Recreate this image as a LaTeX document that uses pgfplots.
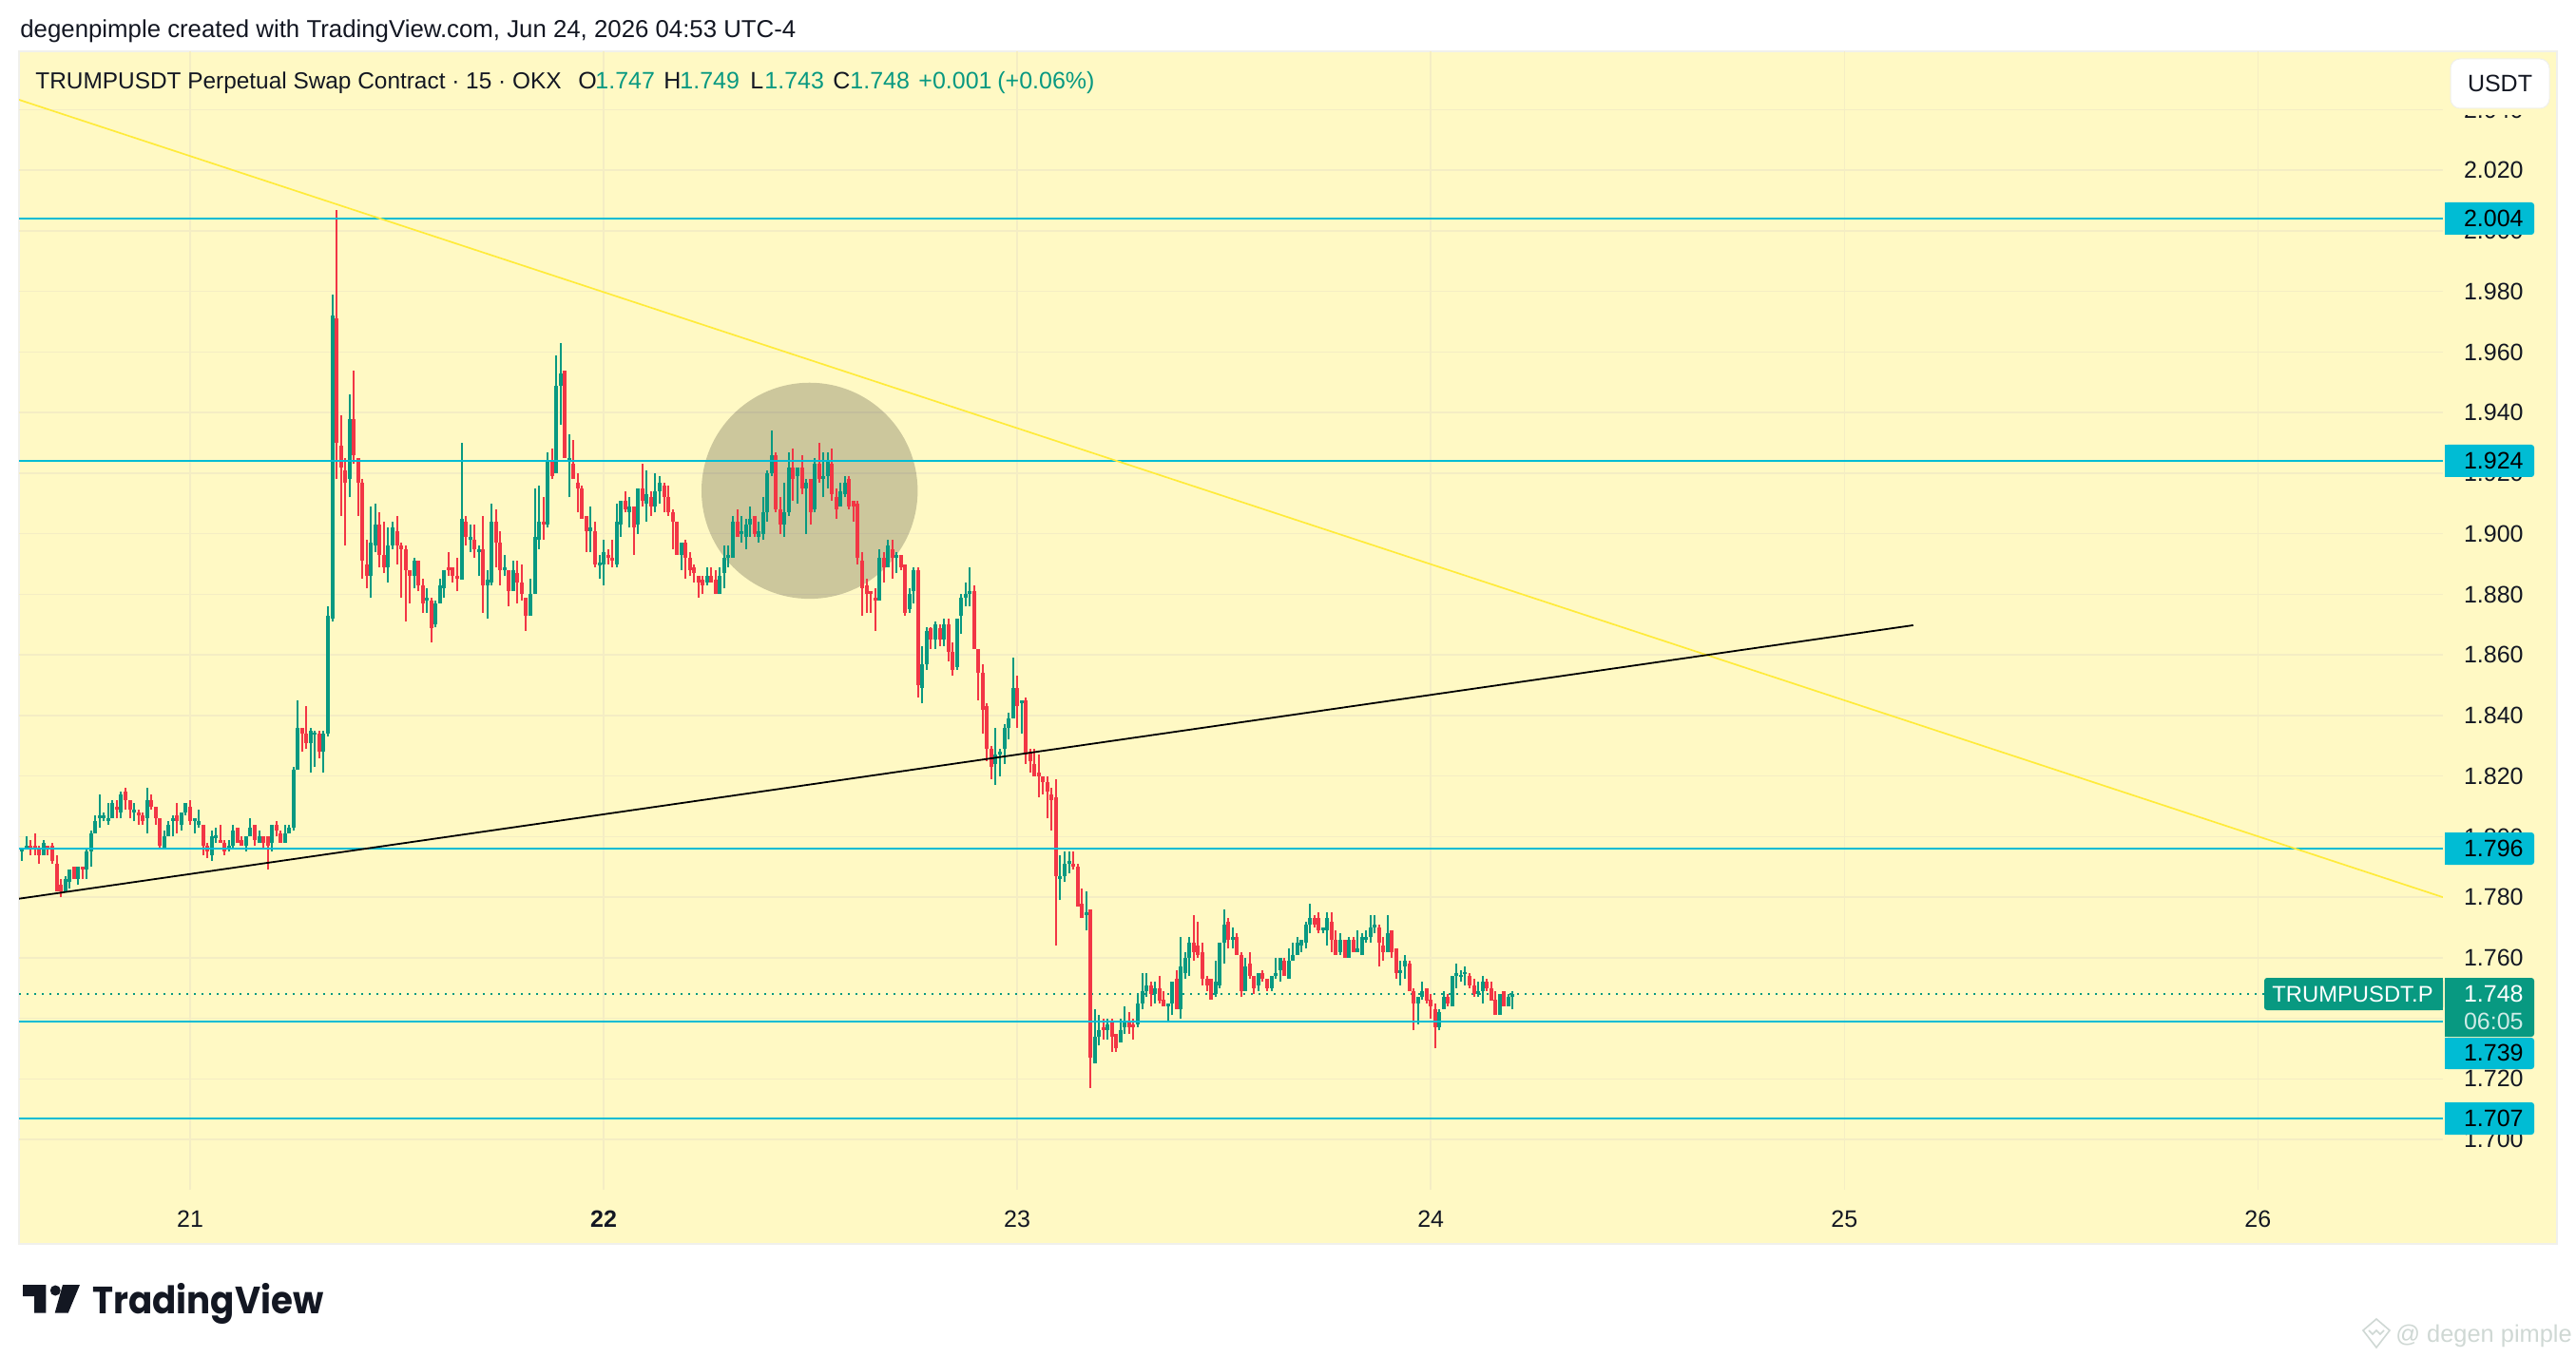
\documentclass[border=0pt]{standalone}
\usepackage{fontspec}
\usepackage{pgfplots}
\usepackage{pgfplotstable}
\pgfplotsset{compat=1.18}
\setmainfont{Liberation Sans}
\newfontfamily\pop{Poppins}
\definecolor{bg}{HTML}{FFF9C4}
\definecolor{gridc}{HTML}{F4EDC4}
\definecolor{upc}{HTML}{089981}
\definecolor{dnc}{HTML}{F23645}
\definecolor{cyanl}{HTML}{00BCD4}
\definecolor{yell}{HTML}{FFEB3B}
\definecolor{txt}{HTML}{131722}
\definecolor{bord}{HTML}{F0F0EC}
\definecolor{wm}{HTML}{CFD8D4}
\pgfplotstableread{
i h l o c
-39 1.796 1.792 1.795 1.796
-38 1.800 1.796 1.796 1.797
-34 1.799 1.794 1.794 1.798
-29 1.787 1.782 1.782 1.786
-28 1.789 1.783 1.785 1.789
-26 1.790 1.784 1.786 1.790
-24 1.796 1.786 1.789 1.795
-23 1.802 1.790 1.795 1.801
-22 1.807 1.801 1.801 1.805
-21 1.814 1.803 1.806 1.807
-20 1.808 1.805 1.806 1.807
-19 1.811 1.804 1.805 1.806
-18 1.812 1.806 1.806 1.811
-16 1.815 1.806 1.808 1.814
-13 1.811 1.805 1.808 1.809
-10 1.816 1.801 1.806 1.812
-6 1.802 1.796 1.796 1.800
-5 1.805 1.800 1.800 1.804
-4 1.807 1.800 1.805 1.806
-2 1.808 1.802 1.804 1.808
-1 1.811 1.807 1.808 1.811
1 1.806 1.801 1.805 1.806
2 1.809 1.803 1.804 1.805
5 1.802 1.792 1.794 1.800
6 1.803 1.798 1.800 1.800
9 1.799 1.795 1.796 1.797
10 1.804 1.796 1.797 1.802
13 1.800 1.795 1.797 1.800
14 1.806 1.800 1.800 1.803
16 1.802 1.798 1.798 1.800
19 1.804 1.795 1.798 1.804
22 1.804 1.798 1.798 1.801
23 1.804 1.801 1.801 1.803
24 1.823 1.802 1.803 1.822
25 1.845 1.822 1.822 1.836
28 1.836 1.821 1.831 1.835
29 1.835 1.823 1.834 1.834
31 1.835 1.821 1.828 1.834
32 1.876 1.833 1.834 1.873
33 1.979 1.871 1.872 1.972
37 1.946 1.912 1.918 1.938
42 1.909 1.879 1.886 1.897
43 1.910 1.894 1.896 1.903
46 1.902 1.884 1.889 1.896
47 1.904 1.895 1.896 1.902
52 1.892 1.882 1.886 1.891
55 1.882 1.874 1.878 1.879
57 1.878 1.869 1.870 1.877
58 1.885 1.877 1.877 1.883
59 1.888 1.879 1.882 1.888
63 1.930 1.885 1.885 1.905
65 1.903 1.894 1.898 1.899
67 1.896 1.886 1.894 1.895
69 1.888 1.872 1.883 1.885
70 1.910 1.883 1.884 1.904
73 1.893 1.886 1.888 1.889
75 1.891 1.881 1.881 1.888
79 1.885 1.873 1.873 1.880
80 1.915 1.880 1.880 1.899
81 1.916 1.895 1.898 1.904
83 1.927 1.902 1.903 1.924
85 1.959 1.920 1.920 1.949
86 1.963 1.936 1.949 1.953
88 1.933 1.912 1.924 1.925
93 1.909 1.894 1.901 1.902
95 1.893 1.885 1.890 1.890
96 1.898 1.883 1.890 1.894
99 1.910 1.889 1.890 1.904
100 1.911 1.899 1.903 1.911
102 1.912 1.902 1.907 1.909
104 1.915 1.900 1.903 1.915
106 1.921 1.904 1.910 1.913
108 1.920 1.907 1.909 1.914
109 1.919 1.910 1.914 1.917
114 1.897 1.888 1.893 1.897
120 1.889 1.883 1.884 1.886
123 1.889 1.880 1.880 1.886
124 1.896 1.882 1.887 1.892
125 1.896 1.889 1.892 1.893
126 1.906 1.892 1.892 1.904
128 1.906 1.897 1.900 1.901
129 1.905 1.895 1.899 1.903
130 1.909 1.899 1.903 1.905
132 1.904 1.897 1.899 1.901
133 1.912 1.898 1.900 1.907
134 1.921 1.904 1.907 1.920
135 1.934 1.919 1.920 1.926
138 1.917 1.899 1.903 1.907
139 1.927 1.906 1.907 1.922
141 1.922 1.910 1.919 1.922
143 1.918 1.900 1.915 1.917
145 1.925 1.907 1.908 1.923
147 1.927 1.912 1.918 1.919
148 1.927 1.915 1.919 1.924
151 1.917 1.909 1.909 1.914
152 1.919 1.912 1.913 1.917
160 1.895 1.878 1.878 1.892
162 1.898 1.889 1.889 1.896
164 1.894 1.887 1.892 1.893
167 1.882 1.874 1.875 1.880
168 1.889 1.877 1.881 1.888
170 1.863 1.844 1.849 1.857
171 1.869 1.855 1.857 1.868
173 1.871 1.862 1.865 1.870
175 1.872 1.863 1.865 1.870
178 1.872 1.855 1.856 1.872
179 1.880 1.867 1.873 1.879
180 1.884 1.876 1.879 1.880
181 1.889 1.876 1.880 1.881
187 1.836 1.817 1.824 1.827
188 1.829 1.820 1.827 1.828
189 1.837 1.824 1.829 1.836
190 1.841 1.832 1.836 1.839
191 1.859 1.839 1.839 1.849
193 1.845 1.834 1.844 1.845
202 1.794 1.779 1.786 1.787
203 1.795 1.785 1.787 1.791
204 1.795 1.788 1.791 1.792
208 1.782 1.769 1.774 1.775
210 1.743 1.725 1.725 1.734
211 1.741 1.731 1.734 1.736
213 1.740 1.733 1.736 1.738
216 1.740 1.732 1.732 1.736
217 1.744 1.735 1.737 1.739
220 1.748 1.737 1.738 1.745
221 1.755 1.743 1.745 1.749
222 1.755 1.747 1.749 1.751
224 1.752 1.745 1.748 1.750
227 1.745 1.739 1.744 1.745
228 1.752 1.741 1.745 1.752
230 1.767 1.740 1.743 1.757
231 1.762 1.753 1.755 1.760
232 1.767 1.754 1.760 1.765
238 1.759 1.747 1.748 1.752
239 1.765 1.750 1.751 1.765
240 1.776 1.758 1.765 1.771
242 1.770 1.763 1.766 1.767
245 1.760 1.749 1.749 1.757
248 1.755 1.749 1.751 1.755
251 1.754 1.749 1.750 1.754
252 1.760 1.753 1.754 1.755
253 1.760 1.752 1.756 1.760
255 1.763 1.753 1.753 1.759
256 1.765 1.759 1.759 1.761
257 1.767 1.761 1.761 1.765
258 1.766 1.762 1.764 1.766
259 1.772 1.763 1.765 1.771
260 1.778 1.768 1.771 1.773
263 1.770 1.768 1.769 1.770
264 1.775 1.764 1.769 1.773
267 1.768 1.761 1.762 1.766
269 1.767 1.760 1.760 1.766
271 1.769 1.762 1.762 1.763
272 1.768 1.761 1.761 1.767
273 1.769 1.765 1.766 1.767
274 1.774 1.765 1.767 1.770
275 1.774 1.768 1.770 1.771
278 1.774 1.762 1.762 1.768
281 1.759 1.751 1.755 1.756
282 1.761 1.753 1.757 1.759
285 1.747 1.738 1.745 1.747
286 1.752 1.746 1.747 1.749
290 1.743 1.736 1.737 1.742
291 1.749 1.743 1.743 1.747
293 1.754 1.744 1.744 1.754
294 1.758 1.750 1.754 1.755
295 1.756 1.752 1.754 1.754
296 1.757 1.751 1.755 1.755
299 1.752 1.747 1.748 1.749
300 1.754 1.745 1.749 1.752
304 1.748 1.741 1.741 1.748
306 1.748 1.744 1.744 1.747
307 1.749 1.743 1.747 1.748
}\upbars
\pgfplotstableread{
i h l o c
-37 1.799 1.794 1.797 1.796
-36 1.801 1.794 1.797 1.796
-35 1.797 1.791 1.796 1.794
-33 1.797 1.794 1.797 1.796
-32 1.798 1.791 1.797 1.792
-31 1.794 1.782 1.791 1.782
-30 1.786 1.780 1.784 1.782
-27 1.790 1.786 1.790 1.786
-25 1.790 1.786 1.790 1.789
-17 1.812 1.806 1.810 1.809
-15 1.816 1.809 1.815 1.812
-14 1.812 1.806 1.812 1.809
-12 1.809 1.804 1.808 1.807
-11 1.808 1.804 1.807 1.805
-9 1.814 1.809 1.812 1.810
-8 1.810 1.804 1.810 1.806
-7 1.806 1.796 1.806 1.797
-3 1.811 1.801 1.807 1.805
0 1.812 1.804 1.810 1.805
3 1.804 1.794 1.804 1.797
4 1.798 1.793 1.797 1.795
7 1.804 1.798 1.799 1.798
8 1.799 1.794 1.798 1.795
11 1.803 1.798 1.803 1.798
12 1.800 1.797 1.799 1.797
15 1.804 1.797 1.804 1.799
17 1.800 1.796 1.800 1.798
18 1.800 1.789 1.800 1.797
20 1.805 1.800 1.804 1.802
21 1.802 1.798 1.801 1.798
26 1.836 1.828 1.836 1.834
27 1.843 1.829 1.834 1.831
30 1.835 1.826 1.834 1.828
34 2.007 1.918 1.971 1.930
35 1.939 1.906 1.929 1.922
36 1.925 1.896 1.921 1.917
38 1.954 1.923 1.938 1.926
39 1.925 1.906 1.925 1.917
40 1.918 1.885 1.917 1.891
41 1.898 1.882 1.890 1.886
44 1.907 1.889 1.903 1.893
45 1.904 1.887 1.893 1.889
48 1.906 1.890 1.901 1.896
49 1.897 1.879 1.896 1.895
50 1.896 1.871 1.895 1.888
51 1.888 1.877 1.888 1.886
53 1.891 1.881 1.891 1.883
54 1.885 1.874 1.883 1.877
56 1.879 1.864 1.878 1.869
60 1.894 1.886 1.889 1.888
61 1.889 1.884 1.889 1.886
62 1.892 1.881 1.886 1.885
64 1.906 1.896 1.904 1.899
66 1.903 1.892 1.898 1.895
68 1.906 1.874 1.895 1.883
71 1.908 1.889 1.904 1.897
72 1.901 1.883 1.897 1.888
74 1.888 1.876 1.888 1.881
76 1.891 1.877 1.887 1.884
77 1.890 1.878 1.884 1.880
78 1.879 1.868 1.879 1.873
82 1.912 1.898 1.904 1.903
84 1.928 1.918 1.924 1.919
87 1.954 1.925 1.954 1.925
89 1.931 1.918 1.923 1.918
90 1.920 1.907 1.917 1.915
91 1.916 1.905 1.915 1.905
92 1.906 1.894 1.906 1.901
94 1.904 1.889 1.901 1.890
97 1.895 1.890 1.893 1.892
98 1.898 1.889 1.892 1.891
101 1.914 1.907 1.911 1.908
103 1.909 1.893 1.909 1.902
105 1.923 1.909 1.915 1.911
107 1.914 1.906 1.912 1.909
110 1.917 1.907 1.916 1.912
111 1.916 1.906 1.912 1.907
112 1.908 1.895 1.907 1.904
113 1.904 1.893 1.904 1.893
115 1.898 1.885 1.897 1.892
116 1.894 1.886 1.892 1.888
117 1.890 1.884 1.889 1.887
118 1.886 1.879 1.886 1.884
119 1.886 1.880 1.885 1.883
121 1.889 1.884 1.886 1.884
122 1.888 1.880 1.885 1.880
127 1.908 1.899 1.904 1.899
131 1.906 1.899 1.906 1.900
136 1.927 1.907 1.926 1.908
137 1.912 1.900 1.908 1.903
140 1.928 1.911 1.922 1.918
142 1.926 1.913 1.922 1.915
144 1.918 1.903 1.918 1.907
146 1.930 1.917 1.923 1.918
149 1.928 1.911 1.923 1.913
150 1.915 1.905 1.912 1.908
153 1.919 1.908 1.918 1.909
154 1.911 1.904 1.911 1.909
155 1.911 1.890 1.910 1.892
156 1.894 1.873 1.891 1.882
157 1.885 1.874 1.883 1.880
158 1.881 1.874 1.881 1.880
159 1.882 1.868 1.879 1.878
161 1.894 1.884 1.892 1.889
163 1.898 1.885 1.895 1.892
165 1.893 1.888 1.893 1.889
166 1.890 1.873 1.890 1.874
169 1.889 1.846 1.888 1.850
172 1.869 1.862 1.869 1.865
174 1.870 1.863 1.869 1.865
176 1.872 1.858 1.870 1.861
177 1.864 1.853 1.861 1.855
182 1.883 1.862 1.881 1.862
183 1.862 1.845 1.862 1.854
184 1.857 1.834 1.854 1.842
185 1.844 1.825 1.843 1.829
186 1.830 1.819 1.829 1.823
192 1.853 1.836 1.849 1.843
194 1.846 1.824 1.845 1.827
195 1.829 1.821 1.828 1.825
196 1.829 1.820 1.824 1.820
197 1.827 1.813 1.821 1.820
198 1.820 1.814 1.820 1.818
199 1.820 1.806 1.818 1.815
200 1.816 1.802 1.814 1.812
201 1.819 1.764 1.813 1.787
205 1.795 1.789 1.791 1.790
206 1.791 1.777 1.790 1.777
207 1.783 1.773 1.778 1.773
209 1.776 1.717 1.776 1.727
212 1.740 1.733 1.737 1.736
214 1.740 1.729 1.739 1.734
215 1.735 1.729 1.735 1.730
218 1.742 1.735 1.739 1.737
219 1.740 1.733 1.738 1.737
223 1.752 1.744 1.751 1.748
225 1.754 1.745 1.750 1.746
226 1.749 1.744 1.746 1.744
229 1.756 1.743 1.753 1.743
233 1.774 1.759 1.765 1.762
234 1.772 1.760 1.764 1.761
235 1.765 1.751 1.762 1.753
236 1.754 1.749 1.753 1.751
237 1.753 1.746 1.753 1.746
241 1.773 1.763 1.772 1.766
243 1.768 1.761 1.767 1.761
244 1.762 1.747 1.761 1.749
246 1.762 1.753 1.758 1.754
247 1.754 1.748 1.754 1.750
249 1.756 1.752 1.755 1.753
250 1.753 1.749 1.753 1.750
254 1.760 1.754 1.759 1.754
261 1.774 1.770 1.773 1.771
262 1.775 1.768 1.773 1.769
265 1.775 1.762 1.772 1.766
266 1.769 1.761 1.766 1.761
268 1.766 1.760 1.766 1.760
270 1.767 1.762 1.766 1.762
276 1.771 1.757 1.770 1.765
277 1.767 1.759 1.764 1.762
279 1.769 1.760 1.769 1.762
280 1.763 1.753 1.763 1.755
283 1.759 1.749 1.758 1.749
284 1.750 1.736 1.749 1.745
287 1.750 1.745 1.750 1.746
288 1.748 1.740 1.746 1.744
289 1.745 1.730 1.743 1.737
292 1.748 1.744 1.747 1.745
297 1.755 1.750 1.754 1.751
298 1.753 1.747 1.751 1.748
301 1.753 1.749 1.752 1.750
302 1.752 1.746 1.750 1.746
303 1.749 1.741 1.746 1.741
305 1.749 1.744 1.749 1.744
}\dnbars
\newcommand{\tvfs}{\fontsize{12.5}{15}\selectfont}
\newcommand{\candles}[2]{%
  \addplot[draw=none,forget plot,error bars/.cd,y dir=plus,y explicit,error mark=none,
    error bar style={draw=#2,line width=1pt}]
    table[x=i,y=l,y error plus expr={\thisrow{h}-\thisrow{l}}]{#1};
  \addplot[draw=none,forget plot,error bars/.cd,y dir=both,y explicit,error mark=none,
    error bar style={draw=#2,line width=2pt}]
    table[x=i,y expr={(\thisrow{o}+\thisrow{c})/2},y error expr={max(abs(\thisrow{c}-\thisrow{o})/2,0.00035)}]{#1};
}
\newcommand{\pricebox}[3]{% y1,y2,colour
  \fill[#3,rounded corners=1.5pt] (2572,#1) rectangle (2666,#2);
  \fill[#3] (2572,#1) rectangle (2610,#2);
}
\begin{document}
\begin{tikzpicture}
\useasboundingbox (0,0) rectangle (1355pt,-714pt);
\fill[white] (0,0) rectangle (1355pt,-714pt);
\begin{scope}[x=0.5pt,y=-0.5pt]
\fill[bg,draw=bord,line width=1pt] (20,54) rectangle (2690,1309);
\end{scope}
\begin{axis}[
  at={(10pt,-626pt)},anchor=south west,scale only axis,
  width=1275pt,height=599pt,
  xmin=-39.72,xmax=522.95,ymin=1.6834,ymax=2.0593,
  axis line style={draw=none},
  major tick length=0pt,
  grid=major,grid style={draw=gridc,line width=0.75pt},
  xtick={0,96,192,288,384,480},
  xticklabels={21,\textbf{22},23,24,25,26},
  ytick={1.70,1.72,1.74,1.76,1.78,1.80,1.82,1.84,1.86,1.88,1.90,1.92,1.94,1.96,1.98,2.00,2.02,2.04},
  yticklabel pos=right,
  scaled y ticks=false,
  yticklabel style={/pgf/number format/fixed,/pgf/number format/fixed zerofill,/pgf/number format/precision=3,/pgf/number format/assume math mode=true,anchor=east,inner sep=0pt,xshift=42.5pt,font=\tvfs,text=txt},
  xticklabel style={inner sep=0pt,anchor=north,yshift=-11pt,font=\tvfs,text=txt},
  clip=true,
]
\fill[black,fill opacity=0.2] (axis cs:143.8,1.9142) circle [radius=56.85pt];
\addplot[upc,line width=1pt,dash pattern=on 1pt off 3pt,forget plot] coordinates {(-39.72,1.748) (481.5,1.748)};
\candles{\upbars}{upc}
\candles{\dnbars}{dnc}
\addplot[cyanl,line width=1pt,forget plot] coordinates {(-39.72,2.004) (522.95,2.004)};
\addplot[cyanl,line width=1pt,forget plot] coordinates {(-39.72,1.924) (522.95,1.924)};
\addplot[cyanl,line width=1pt,forget plot] coordinates {(-39.72,1.796) (522.95,1.796)};
\addplot[cyanl,line width=1pt,forget plot] coordinates {(-39.72,1.739) (522.95,1.739)};
\addplot[cyanl,line width=1pt,forget plot] coordinates {(-39.72,1.707) (522.95,1.707)};
\addplot[yell,line width=0.85pt,forget plot] coordinates {(-39.72,2.0433) (522.95,1.780)};
\addplot[black,line width=0.9pt,forget plot] coordinates {(-39.72,1.7795) (400,1.8698)};
\end{axis}
\begin{scope}[x=0.5pt,y=-0.5pt]
% USDT button, with the scale clipped just below it
\fill[bg] (2578,100) rectangle (2682,121);
\fill[white,draw=bord,line width=0.5pt,rounded corners=5pt] (2578,62) rectangle (2682,114);
\node[anchor=center,inner sep=0pt,font=\tvfs,text=txt] at (2630,88) {USDT};
% header
\node[anchor=base west,inner sep=0pt,text=txt] at (21,40) {\fontsize{12.9}{15}\selectfont degenpimple created with TradingView.com, Jun 24, 2026 04:53 UTC-4};
\node[anchor=base west,inner sep=0pt,text=txt] at (37,94) {\fontsize{12.2}{15}\selectfont TRUMPUSDT Perpetual Swap Contract · 15 · OKX};
\foreach \xx/\tt in {608/O,698/H,789/L,876/C}
  \node[anchor=base west,inner sep=0pt,font=\tvfs,text=txt] at (\xx,94) {\tt};
\foreach \xx/\tt in {626/1.747,715/1.749,804/1.743,894/1.748,966/+0.001,1049/(+0.06\%)}
  \node[anchor=base west,inner sep=0pt,font=\tvfs,text=upc] at (\xx,94) {\tt};
% price boxes
\pricebox{213}{247}{cyanl}
\pricebox{468}{502}{cyanl}
\pricebox{876}{910}{cyanl}
\pricebox{1029}{1091}{upc}
\pricebox{1092}{1125}{cyanl}
\pricebox{1160}{1194}{cyanl}
\fill[upc,rounded corners=1.5pt] (2382,1029) rectangle (2570,1063);
\fill[upc] (2450,1029) rectangle (2570,1063);
\foreach \yy/\tt in {230/2.004,485/1.924,893/1.796,1108/1.739,1177/1.707}
  \node[anchor=east,inner sep=0pt,font=\tvfs,text=black] at (2655,\yy) {\tt};
\node[anchor=east,inner sep=0pt,font=\tvfs,text=white] at (2655,1046) {1.748};
\node[anchor=east,inner sep=0pt,font=\tvfs,text=white!80!upc] at (2655,1075) {06:05};
\node[anchor=east,inner sep=0pt,text=white] at (2560,1046) {\fontsize{11.9}{15}\selectfont TRUMPUSDT.P};
% logo
\fill[txt] (24,1352)--(48.3,1352)--(48.3,1381.7)--(36,1381.7)--(36,1364)--(24,1364)--cycle;
\fill[txt] (58.3,1358) circle (5.5);
\fill[txt] (66,1352)--(84,1352)--(71.7,1381.7)--(57.7,1381.7)--cycle;
\node[anchor=base west,inner sep=0pt,text=txt] at (97,1382) {\scalebox{0.93}[1]{\pop\bfseries\fontsize{20}{24}\selectfont TradingView}};
% watermark
\draw[wm,line width=0.8pt] (2500,1388)--(2514,1400)--(2500,1418)--(2486,1400)--cycle;
\draw[wm,line width=0.8pt] (2492,1400)--(2496,1404)--(2500,1400)--(2504,1404)--(2508,1400);
\node[anchor=base west,inner sep=0pt,text=wm] at (2520,1412) {\fontsize{12.7}{15}\selectfont @ degen pimple};
\end{scope}
\end{tikzpicture}
\end{document}
